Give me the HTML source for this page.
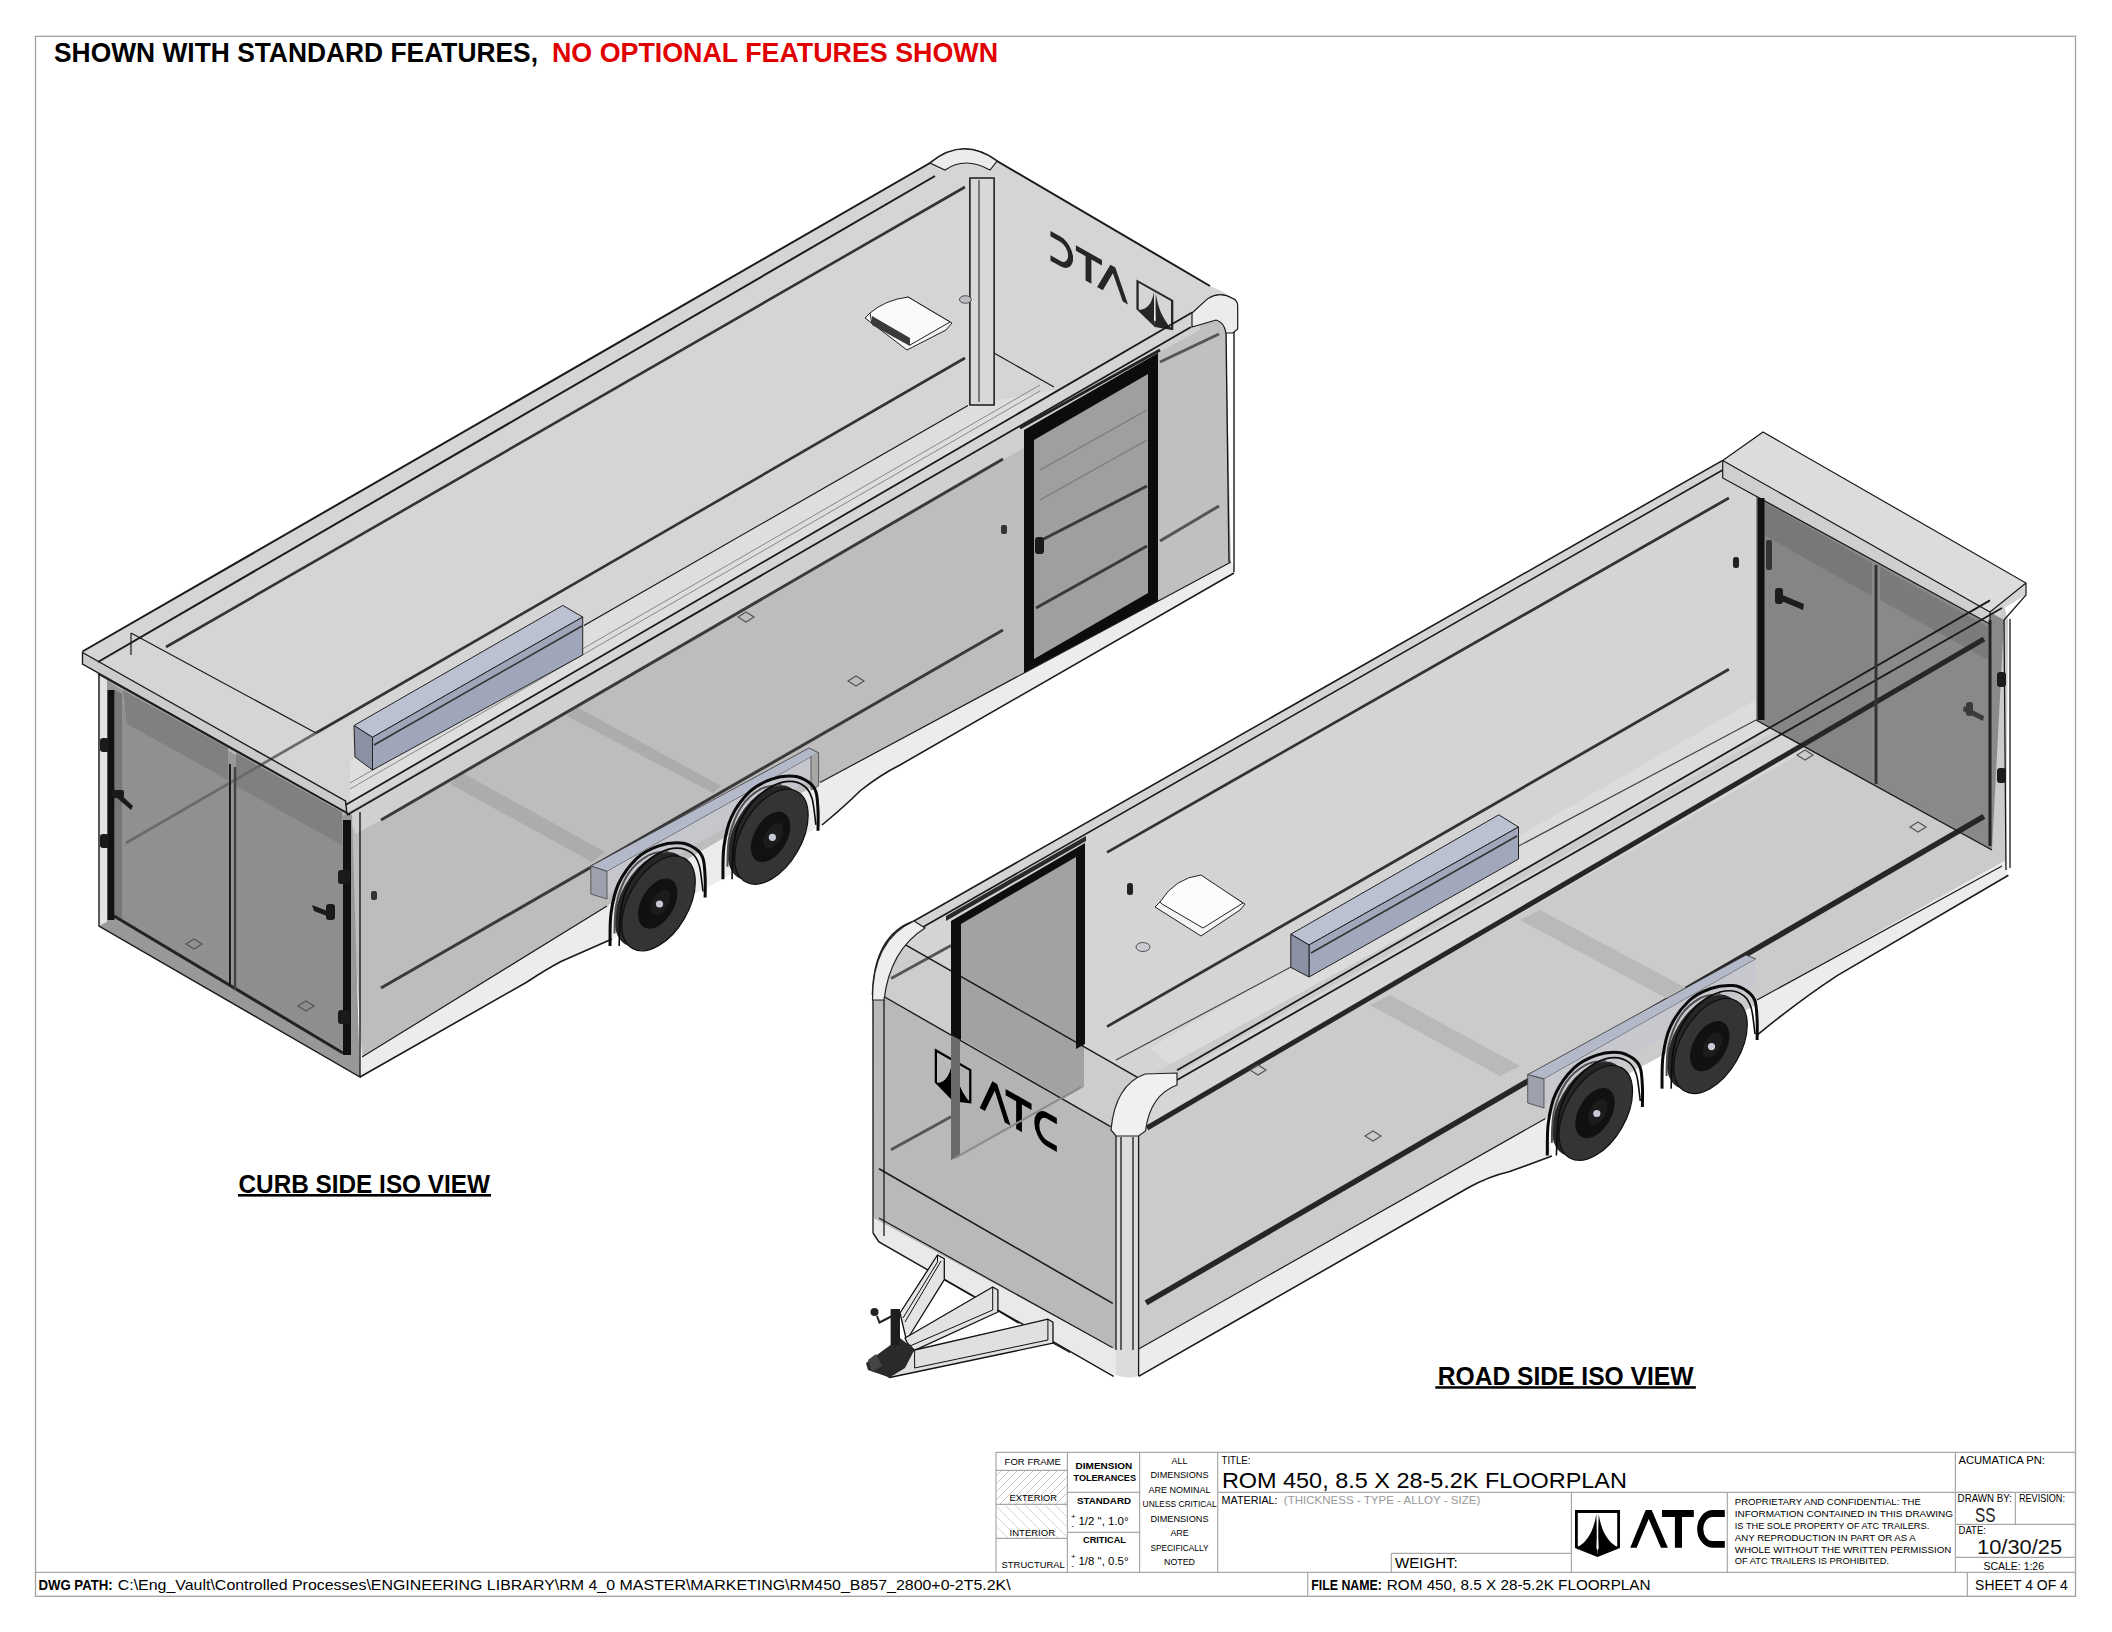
<!DOCTYPE html>
<html><head><meta charset="utf-8"><title>ROM 450 Floorplan</title>
<style>
html,body{margin:0;padding:0;background:#fff;width:2112px;height:1632px;overflow:hidden}
svg{position:absolute;left:0;top:0;display:block}
text{font-family:"Liberation Sans",sans-serif}
</style></head><body>
<svg width="2112" height="1632" viewBox="0 0 2112 1632" xmlns="http://www.w3.org/2000/svg">
<defs>
<pattern id="hatchA" width="8" height="8" patternUnits="userSpaceOnUse"><path d="M-2,10 L10,-2" stroke="#bbb" stroke-width="0.8"/></pattern>
<pattern id="hatchB" width="10" height="10" patternUnits="userSpaceOnUse"><path d="M-2,-2 L12,12" stroke="#ccc" stroke-width="0.8"/></pattern>
<g id="atclogo">
<path d="M1576.4,1511.5 H1618.6 V1547 L1597.5,1555.5 L1576.4,1547 Z" fill="none" stroke="#000" stroke-width="2.8"/>
<path d="M1596.3,1514 C1594,1530 1588,1541 1578,1547 L1597.5,1555 Z" fill="#000"/>
<path d="M1598.7,1514 C1601,1530 1607,1541 1617,1547 L1597.5,1555 Z" fill="#000"/>
<path d="M1597.5,1513 L1596.4,1548 Q1597.5,1552 1598.6,1548 Z" fill="#fff"/>
<path d="M1630.2,1547.8 L1645.7,1510.1 L1651.7,1510.1 L1667.9,1547.8 L1661,1547.8 L1648.7,1519 L1636.6,1547.8 Z" fill="#000"/>
<path d="M1662,1510.1 H1693.8 V1517 H1682 V1547.8 H1674.9 V1517 H1662 Z" fill="#000"/>
<path d="M1724.8,1510.1 H1712 A16,18.9 0 0 0 1712,1547.8 H1724.8 V1541 H1712.5 A9.2,12 0 0 1 1712.5,1517 H1724.8 Z" fill="#000"/>
</g>
<g id="wheel">
<ellipse cx="-7" cy="-4" rx="52" ry="30" transform="rotate(-60 -7 -4)" fill="#262626"/>
<path d="M-44.0,30.0 C-43.7,25.0 -44.3,10.0 -42.0,0.0 C-39.7,-10.0 -35.3,-22.0 -30.0,-30.0 C-24.7,-38.0 -16.7,-44.3 -10.0,-48.0 C-3.3,-51.7 6.7,-51.3 10.0,-52.0" fill="none" stroke="#505050" stroke-width="2"/>
<ellipse cx="0" cy="0" rx="52" ry="30" transform="rotate(-60)" fill="#343434" stroke="#0e0e0e" stroke-width="1.2"/>
<ellipse cx="-0.8" cy="0.2" rx="27.4" ry="16.4" transform="rotate(-60 -0.8 0.2)" fill="#111"/>
<ellipse cx="2" cy="-1" rx="14" ry="8" transform="rotate(-60 2 -1)" fill="#1c1c1c"/>
<circle cx="1" cy="0.6" r="3.6" fill="#c8c9d6"/>
<path d="M-48.5,42.6 C-48.3,37.2 -48.9,20.4 -47.5,10.1 C-46.1,-0.2 -44.4,-10.2 -40.1,-19.4 C-35.8,-28.6 -28.4,-38.6 -21.7,-45.0 C-15.0,-51.4 -7.0,-54.9 0.3,-57.5 C7.6,-60.1 16.3,-60.9 22.4,-60.4 C28.5,-59.9 33.4,-57.2 37.1,-54.6 C40.8,-52.0 42.9,-49.7 44.5,-45.0 C46.1,-40.3 46.2,-33.1 46.6,-26.6 C47.0,-20.1 46.6,-9.4 46.6,-6.0" fill="none" stroke="#0a0a0a" stroke-width="3"/>
<path d="M-39.4,42.6 C-39.1,37.2 -39.0,19.2 -37.9,10.1 C-36.8,1.0 -36.1,-4.3 -32.8,-11.9 C-29.5,-19.5 -23.6,-29.0 -18.1,-35.4 C-12.6,-41.8 -5.8,-46.9 0.3,-50.2 C6.4,-53.5 13.2,-55.3 18.7,-55.3 C24.2,-55.3 29.7,-53.1 33.4,-50.2 C37.1,-47.3 38.9,-44.1 40.8,-37.7 C42.6,-31.3 43.9,-16.2 44.5,-11.9" fill="none" stroke="#0a0a0a" stroke-width="1.6"/>
</g>
</defs>
<!-- TRAILERS -->
<g id="t1">
<!-- ===== FILLS ===== -->
<!-- roof / top -->
<path d="M82.5,652.5 L930,163 Q963,136 997,161 L1212,287 Q1232,294 1237,306 L1237,330 L1192,327 L347,812.5 L82.5,664 Z" fill="#d5d5d5"/>
<!-- lighter band along near roof (A..B) -->
<path d="M350,761.6 L968,405.6 L1054,390 L1054,393 L350,803.6 Z" fill="#dedede"/>
<!-- side face -->
<path d="M347,812.5 L1192,327 L1218,319 Q1226,322 1226,332 L1231,562 L820,782.5 L607,906 L362,1057 Z" fill="#bdbdbd"/>
<!-- upper side band lighter -->
<path d="M347,815 L1191,327 L1200,326 L1200,346 L381,820 L356,834 Z" fill="#d0d0d0"/>
<!-- front section (right of door) seen-through darker -->
<path d="M1158,353 L1218,320 Q1226,322 1226,332 L1229,562 L1157,600 Z" fill="#c0c0c0"/>
<!-- door glass -->
<path d="M1024,430 L1158,353 L1158,601 L1024,675 Z" fill="#0c0c0c"/>
<path d="M1034,440 L1148,374 L1148,593 L1034,659 Z" fill="#9f9f9f"/>
<!-- rear face -->
<path d="M98.5,673.5 L352,815 L360,1077 L99,926 Z" fill="#989898"/>
<path d="M99,674 L347,812.5 L342,816 L117,687 Z" fill="#b5b5b5"/>
<path d="M115,700 L230,764 L230,985 L115,918 Z" fill="#909090"/>
<path d="M235,767 L343,828 L343,1050 L235,988 Z" fill="#8e8e8e"/>
<path d="M99,673.5 L107,678 L107,922 L99,926 Z" fill="#e2e2e2"/>
<path d="M123,690 L228,748 L228,780 L127,724 Z" fill="#808080"/>
<path d="M236,753 L342,812 L342,845 L236,786 Z" fill="#808080"/>
<path d="M115,690 L122,694 L122,920 L115,916 Z" fill="#777"/>
<!-- skirt -->
<path d="M362,1057 L607,906 L820,782.5 L1231,562 L1234,569 L1234,573 L900,765 Q878,778 860,791 L822,825 L612,939 L561,961 L527,982 L360,1077 Z" fill="#ececec"/>
<!-- rear cap front face -->
<path d="M82.5,652.5 L345.5,801 L346.8,812.5 L82.5,664 Z" fill="#cbcbcb"/>


<!-- cross members seen through (floor) -->
<g fill="#acacac">
<path d="M461,772 L605,852 L592,862 L450,784 Z"/>
<path d="M575,706 L721,786 L713,793 L567,716 Z"/>
</g>
<!-- mirrored ATC logo on front wall -->
<use href="#atclogo" transform="matrix(-0.82,-0.463,0,0.79,2464.8,-163.5)" opacity="0.82"/>
<!-- ===== LINES ===== -->
<g fill="none" stroke="#1a1a1a" stroke-width="1.6">
<!-- far roof rail -->
<path d="M82.5,651.5 L930,163 Q963,136 997,161 L1210,286" stroke-width="2"/>
<path d="M98,662 L935,176" stroke-width="2"/>
<!-- upper far e-track -->
<path d="M166,647 L965,187" stroke-width="2.6" stroke="#333"/>
<!-- lower far e-track -->
<path d="M316,733 L965,358" stroke-width="2.6" stroke="#333"/>
<path d="M126,843 L316,733" stroke-width="2.6" stroke="#6a6a6a"/>
<!-- far floor line -->
<path d="M584,625.5 L968,405.6" stroke-width="1.2"/>
<!-- rear header inner -->
<path d="M131,633 L316,733" stroke-width="1.2"/>
<path d="M131,633 L131,655" stroke-width="1.2"/>
<!-- near lines A -->
<path d="M350,783 L1040,385" stroke-width="1" stroke="#888"/>
<path d="M350,789 L1040,391" stroke-width="1" stroke="#888"/>
<!-- near roof rail -->
<path d="M345.5,805 L1192,312.5" stroke-width="1.8"/>
<path d="M347,815 L1191,327" stroke-width="1.8"/>
<!-- rear cap -->
<path d="M82.5,652.5 L345.5,801 L346.8,812.5 L82.5,664 Z" stroke-width="1.4"/>
<path d="M98,674 L350,815" stroke-width="1.4"/>
<!-- front corner post far -->
<path d="M970,178 L970,405 M994,178 L994,405 M979,180 L979,402" stroke-width="1.4"/>
<!-- front wall bottom line -->
<path d="M994,353 L1054,387" stroke-width="1.2"/>
<!-- rear face edges -->
<path d="M99,673 L99,926 L360,1077 L360,812" stroke-width="1.4"/>
<path d="M114,916 L343,1053" stroke-width="3" stroke="#222"/>
<path d="M111,690 L111,920" stroke-width="7" stroke="#111"/>
<path d="M347,820 L347,1055" stroke-width="8" stroke="#111"/>
<path d="M230,764 L230,985" stroke-width="2"/>
<path d="M235,767 L235,990" stroke-width="2.5" stroke="#444"/>
<!-- side panel front edge -->
<path d="M1226,330 L1229,562" stroke-width="1.4"/>
<path d="M1234,306 L1234,572" stroke-width="1.4"/>
<!-- side panel bottom & skirt -->
<path d="M362,1057 L607,906 M820,782.5 L1231,562" stroke-width="1.2"/>
<path d="M360,1077 L527,982 Q545,970 561,961.5 L612,939" stroke-width="1.6"/>
<path d="M822,825 Q845,806 860,791 Q880,775 900,765 L1234,573" stroke-width="1.6"/>
<!-- near wall e-tracks -->
<path d="M381,820 L1003,459" stroke-width="3" stroke="#3a3a3a"/>
<path d="M381,988 L1003,630" stroke-width="3" stroke="#3a3a3a"/>
<path d="M1160,362 L1219,334" stroke-width="3" stroke="#555"/>
<path d="M1160,541 L1219,506" stroke-width="3" stroke="#555"/>
</g>

<!-- front-right cap -->
<path d="M1192,313 L1208,298.4 Q1220,291 1232.8,298.4 Q1238,301 1237.7,306 L1237.7,329 L1232.8,333 L1226,333 Q1224,322 1216,320 L1192,327 Z" fill="#ececec" stroke="#1a1a1a" stroke-width="1.2"/>
<!-- front-far apex cap -->
<path d="M930,163 Q963,136 997,161 L990,170 Q965,156 945,170 Z" fill="#ececec" stroke="#1a1a1a" stroke-width="1.1"/>
<path d="M970,178 L994,178 L994,405 L970,405 Z" fill="#d8d8d8" stroke="#1a1a1a" stroke-width="1.3"/>
<path d="M979,180 L979,402" stroke="#1a1a1a" stroke-width="1"/>
<ellipse cx="965.4" cy="299.5" rx="6" ry="3.8" fill="#bbbbc4" stroke="#333" stroke-width="0.8"/>
<!-- vent -->
<path d="M865,318 L870,313 L908,297 L952,323 L946,330 L907,350 Z" fill="#f4f4f4" stroke="#222" stroke-width="1"/>
<path d="M870,313 Q885,300 908,297 L950,322 L910,345 L872,324 Z" fill="#fafafa" stroke="#222" stroke-width="1"/>
<path d="M872,316 L910,338 L910,346 L872,325 Z" fill="#3a3a3a"/>
<!-- light bar on roof -->
<path d="M354,725.5 L562.8,605.4 L582.7,617 L372.5,737.3 Z" fill="#bcc1d2" stroke="#222" stroke-width="1"/>
<path d="M372.5,737.3 L582.7,617 L582.7,655 L372.5,770 Z" fill="#9fa6ba" stroke="#222" stroke-width="1"/>
<path d="M354,725.5 L372.5,737.3 L372.5,770 L355,757 Z" fill="#8a91a3" stroke="#222" stroke-width="1"/>
<path d="M374,745 L582,626" stroke="#333" stroke-width="1.6"/>
<!-- rear door hardware -->
<g fill="#1a1a1a">
<rect x="100" y="738" width="9" height="14" rx="3"/>
<rect x="100" y="834" width="9" height="14" rx="3"/>
<rect x="112" y="790" width="12" height="8" rx="2"/>
<path d="M118,792 L133,806 L131,810 L116,797 Z"/>
<rect x="338" y="870" width="12" height="14" rx="3"/>
<rect x="338" y="1010" width="12" height="14" rx="3"/>
<path d="M312,905 L330,912 L332,918 L314,911 Z"/>
<rect x="326" y="904" width="9" height="16" rx="3"/>
</g>
<!-- rear floor marks -->
<g fill="none" stroke="#555" stroke-width="1.2">
<path d="M186,944 L194,939 L202,944 L194,949 Z"/>
<path d="M298,1006 L306,1001 L314,1006 L306,1011 Z"/>
<path d="M848,681 L856,676 L864,681 L856,686 Z"/>
<path d="M738,617 L746,612 L754,617 L746,622 Z"/>
</g>
<rect x="1001" y="525" width="6" height="9" rx="2" fill="#333"/>
<rect x="371" y="891" width="6" height="9" rx="2" fill="#333"/>
<!-- door frame -->
<path d="M1036,543 L1147,486 M1036,608 L1147,546" stroke="#3a3a3a" stroke-width="3"/>
<path d="M1040,470 L1147,410 M1040,500 L1147,440" stroke="#7a7a7a" stroke-width="1.2" fill="none"/>
<rect x="1035" y="537" width="9" height="17" rx="3" fill="#1a1a1a"/>
<path d="M1020,428 L1160,350" stroke="#222" stroke-width="3"/>
</g>

<g id="t1w">
<!-- fender box -->
<path d="M590.8,866 L809,748 L818.6,752.8 L607,871.4 Z" fill="#b4b9c9" stroke="#333" stroke-width="0.8"/>
<path d="M607,871.4 L818.6,752.8 L818.6,775 L607,895 Z" fill="#c6c8ce" opacity="0.9"/>
<path d="M590.8,866 L607,871.4 L607,899 L590.8,894 Z" fill="#9da1ad" stroke="#444" stroke-width="0.8"/>
<path d="M818.6,752.8 L818.6,786 L811,790 L811,756" fill="#a7a7a7" stroke="#444" stroke-width="0.8"/>
<use href="#wheel" transform="translate(658.5,903.4)"/>
<use href="#wheel" transform="translate(771.4,836.7)"/>
</g>

<g id="t2">
<!-- ===== FILLS ===== -->
<!-- roof -->
<path d="M872.5,995 Q874,935 914,921 L1722.7,460.4 L1763,432 L2026,583 L2026,595 L2004,608 L1177,1080 L1145,1086 L1137.5,1077.3 L904.7,944.4 Z" fill="#d4d4d4"/>
<path d="M1150,1048 L1990,565 L1990,600.4 L1177,1070.3 Z" fill="#dcdcdc"/>
<path d="M1140,1060 L1150,1048" stroke="none"/>
<!-- side (road side) -->
<path d="M1138,1082 L2004,606 L2008,620 L2006,870 L1545.5,1118.4 L1138.6,1349 Z" fill="#cbcbcb"/>
<path d="M1145,1092 L2002,608 L1990,645 L1147,1128 Z" fill="#d6d6d6"/>
<!-- rear doors seen through -->
<path d="M1756,478 L2004,620 L1992,850 L1756,720 Z" fill="#8a8a8a"/>
<path d="M1760,500 L1872,563 L1872,782 L1760,720 Z" fill="#858585"/>
<path d="M1880,567 L1990,628 L1990,842 L1880,786 Z" fill="#898989"/>
<path d="M1764,502 L1872,563 L1872,596 L1764,535 Z" fill="#787878"/>
<path d="M1880,567 L1988,627 L1988,660 L1880,600 Z" fill="#7b7b7b"/>
<!-- front face -->
<path d="M872.5,995 L905,944 L1137.5,1077 L1138,1135 L1116,1135 L1116,1350 L873,1218 Z" fill="#b9b9b9"/>
<path d="M872.5,995 L905,944 L1137.5,1077 L1138,1128 L1110.6,1126.7 L883,996 Z" fill="#cdcdcd"/>
<!-- far door (seen through) -->
<path d="M951,921 L1084,845 L1084,1087 L1063.8,1098.4 L951,1033.6 Z" fill="#a2a2a2"/>
<path d="M951,1033.6 L1063.8,1098.4 L955,1160 L951,1160 Z" fill="#b3b3b3"/>
<!-- skirt -->
<path d="M1138.6,1349 L1545.5,1118.4 L1552,1156 L1509,1171.8 L1468.2,1187.7 L1138.6,1376.4 Z" fill="#ececec"/>
<path d="M1757,1000 L2006,860 L2008,875 L1837,975.6 Q1800,1000 1757,1035 Z" fill="#ececec"/>
<path d="M873,1218 L1116,1350 L1116,1376 L879,1242 L873,1233 Z" fill="#e9e9e9"/>
<!-- front-near post light -->
<path d="M1116,1135 L1138.6,1133 L1138.6,1376 Q1128,1380 1116,1375 Z" fill="#dcdcdc"/>
<!-- rear cap top face -->
<path d="M1722.7,460.4 L1763,432 L2026,583 L1990,612 Z" fill="#dcdcdc"/>
<path d="M1722.7,460.4 L1990,612 L1990,624 L1722.7,478 Z" fill="#cfcfcf"/>

<!-- ===== LINES ===== -->
<g fill="none" stroke="#1a1a1a" stroke-width="1.6">
<path d="M872.5,995 Q874,935 914,921 L1722.7,460.4"/>
<path d="M916,931 L1722.7,470"/>
<!-- rear cap -->
<path d="M1722.7,460.4 L1763,432 L2026,583 L2026,595 L2004,620 M1722.7,460.4 L1990,612 L2026,583 M1722.7,460.4 L1722.7,478 L1990,624 L1990,612" stroke-width="1.2"/>
<!-- far wall e-tracks -->
<path d="M1107,852.4 L1728.9,498 M1107,1026.6 L1728.9,669.2" stroke-width="2.8" stroke="#333"/>
<path d="M891,978.6 L951,945.5 M891,1149.7 L951,1116.7" stroke-width="2.8" stroke="#555"/>
<!-- near roof rail -->
<path d="M1177,1070.3 L1990,600.4" stroke-width="1.8"/>
<path d="M1177,1080 L2002,608" stroke-width="1.8"/>
<!-- near wall e-tracks -->
<path d="M1147,1128 L1984,639" stroke-width="5" stroke="#262626"/>
<path d="M1146,1302.9 L1984,816.4" stroke-width="5.5" stroke="#262626"/>
<!-- front face -->
<path d="M883,996 L1110.6,1126.7" stroke-width="1.4"/>
<path d="M904.7,944.4 L1137.5,1077.3" stroke-width="1.4"/>
<path d="M879,1168.7 L1112.7,1303.4" stroke-width="1.6"/>
<path d="M879,1218 L1112.7,1347.7" stroke-width="1.2"/>
<path d="M873,996 L873,1233 M884,1000 L884,1236" stroke-width="1.3"/>
<path d="M873,1233 L879,1242 L1113.6,1376.4" stroke-width="1.5"/>
<!-- post -->
<path d="M1116,1135 L1116,1350 M1121,1137 L1121,1350 M1133,1137 L1133,1350 M1138.6,1133 L1138.6,1376" stroke-width="1.3"/>
<!-- rear near edge -->
<path d="M2004,620 L2006,870 M2010,619 L2010,868" stroke-width="1.3"/>
<!-- side bottom & skirt -->
<path d="M1138.6,1349 L1545.5,1118.4 M1757,1000 L2002,866" stroke-width="1.2"/>
<path d="M1138.6,1376.4 L1468.2,1187.7 Q1490,1176 1509,1171.8 L1552,1156" stroke-width="1.6"/>
<path d="M1757.4,1034.8 Q1800,1000 1837.2,975.6 L2008.4,875.2" stroke-width="1.6"/>
<!-- rear doors frame -->
<path d="M1761,498 L1761,720" stroke-width="7" stroke="#111"/>
<path d="M1990,620 L1990,846" stroke-width="3" stroke="#222"/>
<path d="M1876,565 L1876,784" stroke-width="3" stroke="#333"/>
<path d="M1756,720 L1992,850" stroke-width="1.4"/>
<!-- far floor line & misc -->
<path d="M1116,1060 L1756,720" stroke-width="1.2" stroke="#444"/>
</g>

<!-- T2 logo on front face -->
<use href="#atclogo" transform="matrix(0.815,0.465,0,0.9,-348.9,-1043)"/>
<!-- vent -->
<path d="M1155,907 L1160,902 L1201,877 L1245,904 L1240,910 L1201,936 Z" fill="#f4f4f4" stroke="#222" stroke-width="1"/>
<path d="M1160,902 Q1175,878 1201,875 L1243,903 L1203,928 L1162,904 Z" fill="#fcfcfc" stroke="#222" stroke-width="1"/>
<ellipse cx="1143" cy="947" rx="7" ry="4.5" fill="#c9cad2" stroke="#333" stroke-width="0.8"/>
<rect x="1127" y="883" width="6" height="12" rx="2.5" fill="#222"/>
<!-- light bar -->
<path d="M1290.8,934.2 L1498.8,814.8 L1518.5,827 L1309,945 Z" fill="#bcc1d2" stroke="#222" stroke-width="1"/>
<path d="M1309,945 L1518.5,827 L1518.5,859 L1309,977 Z" fill="#a1a8bb" stroke="#222" stroke-width="1"/>
<path d="M1290.8,934.2 L1309,945 L1309,977 L1290.8,967.4 Z" fill="#8a91a3" stroke="#222" stroke-width="1"/>
<path d="M1311,953 L1517,836" stroke="#333" stroke-width="1.6"/>
<!-- cross members -->
<g fill="#b9b9b9">
<path d="M1370,1005 L1390,995 L1520,1066 L1500,1076 Z"/>
<path d="M1520,920 L1540,910 L1690,990 L1670,1000 Z"/>
</g>
<!-- floor marks -->
<g fill="none" stroke="#555" stroke-width="1.2">
<path d="M1365,1136 L1373,1131 L1381,1136 L1373,1141 Z"/>
<path d="M1250,1070 L1258,1065 L1266,1070 L1258,1075 Z"/>
<path d="M1797,755 L1805,750 L1813,755 L1805,760 Z"/>
<path d="M1910,827 L1918,822 L1926,827 L1918,832 Z"/>
</g>
<rect x="1733" y="557" width="6" height="11" rx="2.5" fill="#222"/>
<!-- rear door hardware -->
<g fill="#1c1c1c">
<rect x="1997" y="672" width="9" height="15" rx="3"/>
<rect x="1997" y="768" width="9" height="15" rx="3"/>
<rect x="1766" y="540" width="6" height="30" rx="2" fill="#333"/>
<rect x="1775" y="588" width="8" height="16" rx="3"/>
<path d="M1780,594 L1804,604 L1803,610 L1779,600 Z"/>
<rect x="1966" y="702" width="7" height="14" rx="3" fill="#3a3a3a"/>
<path d="M1964,706 L1984,716 L1983,721 L1963,711 Z" fill="#3a3a3a"/>
</g>
<!-- far door frame -->
<path d="M951,1035 L951,1160 L960,1155 L960,1040 Z" fill="#6a6a6a"/>
<path d="M951,921 L1085,843 L1085,1044 L1076,1049 L1076,857 L961,924 L961,1040 L951,1035 Z" fill="#0e0e0e"/>
<path d="M955,1158 L1081,1087" fill="none" stroke="#8a8a8a" stroke-width="2"/>
<path d="M946,916 L1086,836 L1086,841 L946,921 Z" fill="#2a2a2a"/>
<!-- nose caps -->
<path d="M872.5,1000 Q872,940 914,921 L925,928 Q890,950 884,1000 Z" fill="#eeeeee" stroke="#222" stroke-width="1.2"/>
<path d="M1111,1130 Q1115,1085 1145,1074 L1177,1073 L1177,1085 Q1150,1095 1145.5,1131 L1138.6,1136 L1116,1136 Z" fill="#f0f0f0" stroke="#222" stroke-width="1.2"/>
</g>

<g id="t2w">
<!-- fender box -->
<path d="M1527.7,1074.6 L1746,955 L1755.9,959 L1544,1079 Z" fill="#b4b9c9" stroke="#333" stroke-width="0.8"/>
<path d="M1544,1079 L1755.9,959 L1755.9,985 L1544,1105 Z" fill="#c6c8ce" opacity="0.9"/>
<path d="M1527.7,1074.6 L1544,1079 L1544,1108 L1527.7,1103 Z" fill="#9da1ad" stroke="#444" stroke-width="0.8"/>
<use href="#wheel" transform="translate(1595.8,1112.9)"/>
<use href="#wheel" transform="translate(1710.5,1046)"/>
<!-- tongue / A-frame -->
<g stroke="#111" stroke-width="1.3" stroke-linejoin="round">
<path d="M937.5,1255 L944.3,1258.8 L944.3,1279.6 L906.5,1340.5 L900,1313 Z" fill="#e4e4e4"/>
<path d="M937.5,1255 L937.5,1262 L903,1318 M941,1261 L905,1322" fill="none" stroke-width="1"/>
<path d="M992.7,1287 L997.9,1290 L997.9,1312 L914.6,1350.4 L907.3,1343 L905,1338 Z" fill="#e2e2e2"/>
<path d="M992.7,1287 L992.7,1310 L910,1346" fill="none" stroke-width="1"/>
<path d="M1047.9,1319.2 L1053,1322.3 L1053,1343.1 L889.6,1377.5 L880,1371 L914.6,1350 Z" fill="#e0e0e0"/>
<path d="M1047.9,1319.2 L1047.9,1340 L914.6,1368 M914.6,1350 L914.6,1368" fill="none" stroke-width="1"/>
</g>
<!-- coupler & jack -->
<path d="M866,1363 L900,1338 L914.6,1349.4 L905,1368 L889.6,1377.5 L868,1370 Z" fill="#2a2a2a"/>
<path d="M868,1360 L876,1354 L882,1366 L872,1372 Z" fill="#444"/>
<rect x="890.6" y="1309" width="9.4" height="36" fill="#1e1e1e"/>
<circle cx="874.5" cy="1312" r="4" fill="#222"/>
<path d="M877,1316 L879.5,1322.5 L894,1315" fill="none" stroke="#222" stroke-width="2"/>
<g fill="none" stroke="#111" stroke-width="1.3">
<path d="M944.3,1279.6 L972.9,1296.3 M997.9,1310.8 L1018.8,1323.3 M1053,1343 L1070,1352.5"/>
</g>
</g>


<!-- HEADER -->
<text x="54" y="62" font-size="27.5" font-weight="bold" fill="#000" textLength="484" lengthAdjust="spacingAndGlyphs">SHOWN WITH STANDARD FEATURES,</text>
<text x="552" y="62" font-size="27.5" font-weight="bold" fill="#e10000" textLength="446" lengthAdjust="spacingAndGlyphs">NO OPTIONAL FEATURES SHOWN</text>

<!-- VIEW LABELS -->
<text x="238.5" y="1192.7" font-size="25" font-weight="bold" textLength="251.5" lengthAdjust="spacingAndGlyphs">CURB SIDE ISO VIEW</text>
<rect x="238" y="1194" width="253" height="2.6" fill="#000"/>
<text x="1437.8" y="1384.8" font-size="25" font-weight="bold" textLength="255.6" lengthAdjust="spacingAndGlyphs">ROAD SIDE ISO VIEW</text>
<rect x="1435.3" y="1386.2" width="260.6" height="2.5" fill="#000"/>

<!-- FRAME -->
<g fill="none" stroke="#a0a0a0" stroke-width="1.3">
<rect x="35.5" y="36.3" width="2040" height="1560"/>
</g>
<!-- TITLE BLOCK -->
<g fill="none" stroke="#a8a8a8" stroke-width="1.2">
<path d="M996,1452.3 H2075.5 M996,1452.3 V1572.3 M35.5,1572.3 H2075.5"/>
<path d="M1067.4,1452.3 V1572.3 M1139.6,1452.3 V1572.3 M1217.7,1452.3 V1572.3"/>
<path d="M996,1470.4 H1067.4 M996,1504.4 H1067.4 M996,1538.4 H1067.4"/>
<path d="M1067.4,1492.3 H1139.6 M1067.4,1532.4 H1139.6"/>
<path d="M1217.7,1492.3 H2075.5"/>
<path d="M1571.4,1492.3 V1572.3 M1727.3,1492.3 V1572.3 M1955.4,1452.3 V1572.3"/>
<path d="M1391.3,1553.4 H1571.4 M1391.3,1553.4 V1572.3"/>
<path d="M2015.4,1492.3 V1524.4 M1955.4,1524.4 H2075.5 M1955.4,1557.4 H2075.5"/>
<path d="M1307.7,1572.3 V1596 M1967.4,1572.3 V1596"/>
</g>
<rect x="996.5" y="1470.9" width="70.4" height="33" fill="url(#hatchA)"/>
<rect x="996.5" y="1504.9" width="70.4" height="33" fill="url(#hatchB)"/>

<g fill="#000" font-size="9.8">
<text x="1004.6" y="1464.7" textLength="56.3" lengthAdjust="spacingAndGlyphs">FOR FRAME</text>
<text x="1009.5" y="1500.6" textLength="47.5" lengthAdjust="spacingAndGlyphs">EXTERIOR</text>
<text x="1009.6" y="1535.5" textLength="45.4" lengthAdjust="spacingAndGlyphs">INTERIOR</text>
<text x="1001.6" y="1568" textLength="63.2" lengthAdjust="spacingAndGlyphs">STRUCTURAL</text>
</g>
<g fill="#000" font-size="9.6" font-weight="bold">
<text x="1075.6" y="1468.5" textLength="56.6" lengthAdjust="spacingAndGlyphs">DIMENSION</text>
<text x="1073.5" y="1480.7" textLength="62.5" lengthAdjust="spacingAndGlyphs">TOLERANCES</text>
<text x="1077" y="1503.6" textLength="54" lengthAdjust="spacingAndGlyphs">STANDARD</text>
<text x="1083" y="1543.4" textLength="43" lengthAdjust="spacingAndGlyphs">CRITICAL</text>
</g>
<g fill="#000" font-size="10">
<text x="1078.5" y="1524.6" textLength="50" lengthAdjust="spacingAndGlyphs">1/2 ", 1.0°</text>
<text x="1078.5" y="1564.9" textLength="50" lengthAdjust="spacingAndGlyphs">1/8 ", 0.5°</text>
<text x="1071" y="1519" font-size="8">+</text><text x="1071.5" y="1528" font-size="8">-</text>
<text x="1071" y="1559" font-size="8">+</text><text x="1071.5" y="1568" font-size="8">-</text>
</g>
<g fill="#000" font-size="8.9" text-anchor="middle">
<text x="1179.5" y="1463.6">ALL</text>
<text x="1179.5" y="1477.8" textLength="58" lengthAdjust="spacingAndGlyphs">DIMENSIONS</text>
<text x="1179.5" y="1492.5" textLength="62" lengthAdjust="spacingAndGlyphs">ARE NOMINAL</text>
<text x="1179.6" y="1506.6" textLength="74" lengthAdjust="spacingAndGlyphs">UNLESS CRITICAL</text>
<text x="1179.5" y="1521.9" textLength="58" lengthAdjust="spacingAndGlyphs">DIMENSIONS</text>
<text x="1179.5" y="1536">ARE</text>
<text x="1179.5" y="1550.7" textLength="58" lengthAdjust="spacingAndGlyphs">SPECIFICALLY</text>
<text x="1179.5" y="1564.9">NOTED</text>
</g>
<text x="1221.6" y="1463.8" font-size="10.5" textLength="28.8" lengthAdjust="spacingAndGlyphs">TITLE:</text>
<text x="1221.9" y="1488.4" font-size="22" textLength="405" lengthAdjust="spacingAndGlyphs">ROM 450, 8.5 X 28-5.2K FLOORPLAN</text>
<text x="1221.6" y="1503.6" font-size="11" textLength="56" lengthAdjust="spacingAndGlyphs">MATERIAL:</text>
<text x="1283.8" y="1503.6" font-size="11" fill="#999" textLength="196.5" lengthAdjust="spacingAndGlyphs">(THICKNESS - TYPE - ALLOY - SIZE)</text>
<text x="1395" y="1568.4" font-size="15" textLength="62.8" lengthAdjust="spacingAndGlyphs">WEIGHT:</text>

<!-- ATC logo -->
<use href="#atclogo"/>

<g fill="#000" font-size="9.8">
<text x="1734.8" y="1504.5" textLength="186" lengthAdjust="spacingAndGlyphs">PROPRIETARY AND CONFIDENTIAL: THE</text>
<text x="1734.8" y="1516.7" textLength="218.2" lengthAdjust="spacingAndGlyphs">INFORMATION CONTAINED IN THIS DRAWING</text>
<text x="1734.8" y="1528.9" textLength="194.4" lengthAdjust="spacingAndGlyphs">IS THE SOLE PROPERTY OF ATC TRAILERS.</text>
<text x="1734.8" y="1540.6" textLength="181" lengthAdjust="spacingAndGlyphs">ANY REPRODUCTION IN PART OR AS A</text>
<text x="1734.8" y="1552.5" textLength="216.6" lengthAdjust="spacingAndGlyphs">WHOLE WITHOUT THE WRITTEN PERMISSION</text>
<text x="1734.8" y="1564.3" textLength="154.3" lengthAdjust="spacingAndGlyphs">OF ATC TRAILERS IS PROHIBITED.</text>
</g>
<g fill="#000" font-size="10.3">
<text x="1958.4" y="1463.8" textLength="86.6" lengthAdjust="spacingAndGlyphs">ACUMATICA PN:</text>
<text x="1957.6" y="1501.5" textLength="54.3" lengthAdjust="spacingAndGlyphs">DRAWN BY:</text>
<text x="2018.9" y="1501.5" textLength="46.1" lengthAdjust="spacingAndGlyphs">REVISION:</text>
<text x="1958.5" y="1533.5" textLength="27.4" lengthAdjust="spacingAndGlyphs">DATE:</text>
<text x="1983.5" y="1569.5" textLength="60.5" lengthAdjust="spacingAndGlyphs">SCALE: 1:26</text>
</g>
<text x="1975.1" y="1521.6" font-size="19.5" fill="#222" textLength="20.5" lengthAdjust="spacingAndGlyphs">SS</text>
<text x="1977" y="1553.7" font-size="19.5" fill="#111" textLength="85.2" lengthAdjust="spacingAndGlyphs">10/30/25</text>
<text x="1975.1" y="1589.7" font-size="15.5" textLength="92.7" lengthAdjust="spacingAndGlyphs">SHEET 4 OF 4</text>

<text x="38.4" y="1590" font-size="14" font-weight="bold" textLength="74.3" lengthAdjust="spacingAndGlyphs">DWG PATH:</text>
<text x="117.7" y="1590" font-size="15" textLength="893" lengthAdjust="spacingAndGlyphs">C:\Eng_Vault\Controlled Processes\ENGINEERING LIBRARY\RM 4_0 MASTER\MARKETING\RM450_B857_2800+0-2T5.2K\</text>
<text x="1311.2" y="1590" font-size="14" font-weight="bold" textLength="70.7" lengthAdjust="spacingAndGlyphs">FILE NAME:</text>
<text x="1386.8" y="1590" font-size="15" textLength="263.7" lengthAdjust="spacingAndGlyphs">ROM 450, 8.5 X 28-5.2K FLOORPLAN</text>
</svg>
</body></html>
